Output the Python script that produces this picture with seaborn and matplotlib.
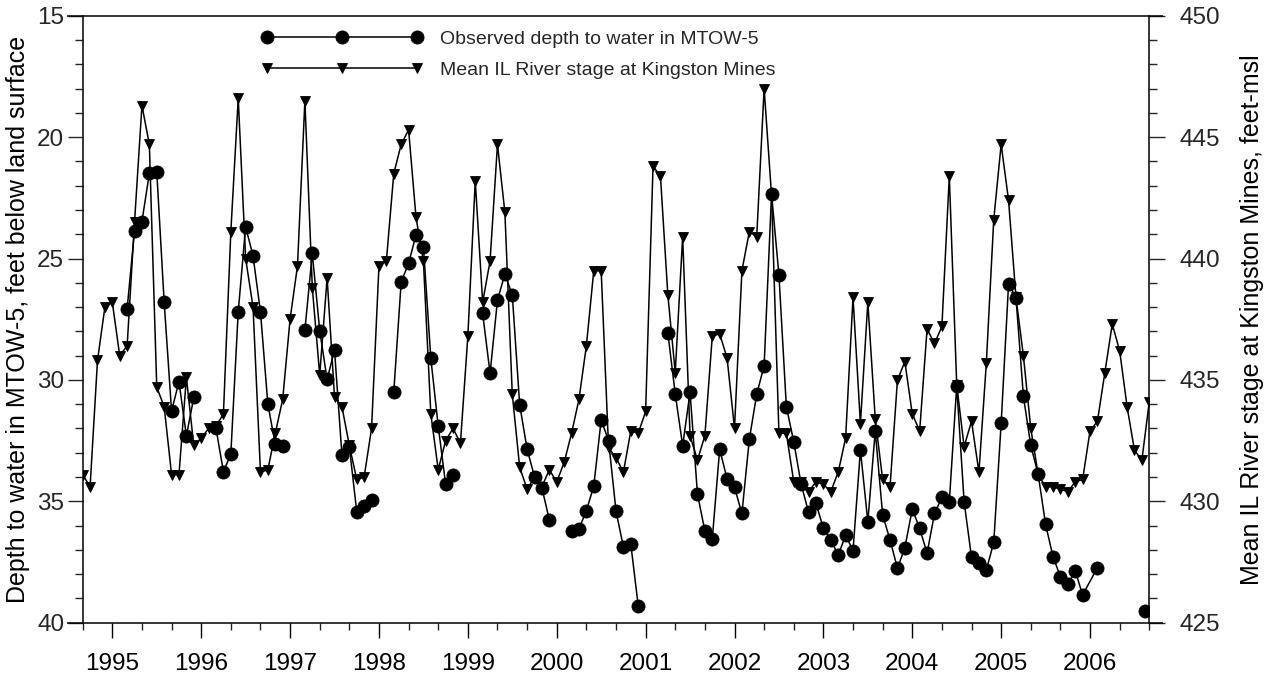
import numpy as np
import pandas as pd
import matplotlib
matplotlib.use("Agg")
import matplotlib.pyplot as plt
import seaborn as sns
from matplotlib.lines import Line2D
from matplotlib.ticker import MultipleLocator

# ---------------- data ----------------
# monthly series starts September 1994 (month index 0)
START_YEAR = 1994 + 8 / 12

# Mean IL River stage at Kingston Mines, feet-msl (monthly, Sep 1994 - Sep 2006)
river_stage = [
    431.1, 430.6, 435.8, 438.0, 438.2, 436.0, 436.4, 441.5, 446.3, 444.7,
    434.7, 433.9, 431.1, 431.1, 435.1, 432.3, 432.6, 433.0, 433.1, 433.6,
    441.1, 446.6, 440.0, 438.0, 431.2, 431.3, 432.8, 434.2, 437.5, 439.7,
    446.5, 438.8, 435.2, 439.2, 434.3, 433.9, 432.3, 430.9, 431.0, 433.0,
    439.7, 439.9, 443.5, 444.7, 445.3, 441.7, 439.9, 433.6, 431.3, 432.5,
    433.0, 432.4, 436.8, 443.2, 438.2, 439.9, 444.7, 441.9, 434.4, 431.4,
    430.5, 431.0, 430.6, 431.3, 430.8, 431.6, 432.8, 434.2, 436.4, 439.5,
    439.5, 432.2, 431.8, 431.2, 432.9, 432.8, 433.7, 443.8, 443.4, 438.5,
    435.3, 440.9, 432.7, 431.7, 432.7, 436.8, 436.9, 435.9, 433.0, 439.5,
    441.1, 440.9, 447.0, 442.6, 432.8, 432.8, 430.8, 430.8, 430.4, 430.8,
    430.7, 430.4, 431.2, 432.6, 438.4, 433.2, 438.2, 433.4, 430.9, 430.6,
    435.0, 435.75, 433.6, 432.9, 437.1, 436.5, 437.2, 443.4, 434.8, 432.25,
    433.3, 431.2, 435.7, 441.6, 444.7, 442.4, 438.4, 436.0, 433.0, 431.1,
    430.6, 430.6, 430.5, 430.4, 430.8, 430.9, 432.9, 433.3, 435.3, 437.3,
    436.2, 433.9, 432.1, 431.7, 434.1,
]

# Observed depth to water in MTOW-5 (month index, feet below land surface, line segment id)
depth_month = (
    list(range(6, 16)) + list(range(18, 28)) + list(range(30, 40)) +
    list(range(42, 51)) + list(range(54, 64)) + list(range(66, 76)) +
    list(range(79, 136)) + [137] + [143.4]
)
depth_ft = [
    27.08, 23.85, 23.48, 21.49, 21.42, 26.80, 31.28, 30.07, 32.30, 30.72,
    32.00, 33.78, 33.05, 27.19, 23.69, 24.90, 27.19, 31.00, 32.65, 32.72,
    27.94, 24.79, 27.97, 29.98, 28.77, 33.09, 32.75, 35.43, 35.19, 34.95,
    30.49, 25.96, 25.20, 24.03, 24.51, 29.11, 31.90, 34.30, 33.92,
    27.26, 29.73, 26.71, 25.64, 26.50, 31.03, 32.85, 33.99, 34.44, 35.77,
    36.21, 36.13, 35.39, 34.37, 31.65, 32.50, 35.40, 36.87, 36.76, 39.30,
    28.06, 30.58, 32.71, 30.51, 34.70, 36.22, 36.55, 32.85, 34.08, 34.42,
    35.50, 32.45, 30.59, 29.41, 22.34, 25.68, 31.10, 32.55, 34.30, 35.45,
    35.08, 36.11, 36.59, 37.21, 36.40, 37.03, 32.89, 35.84, 32.10, 35.56,
    36.59, 37.76, 36.91, 35.32, 36.11, 37.14, 35.50, 34.84, 35.02, 30.25,
    35.02, 37.31, 37.55, 37.83, 36.69, 31.79, 26.05, 26.61, 30.66, 32.70,
    33.89, 35.95, 37.28, 38.10, 38.41, 37.86, 38.86, 37.73,
    39.50,
]
depth_seg = ([0] * 10 + [1] * 10 + [2] * 10 + [3] * 9 + [4] * 10 + [5] * 10 +
             [6] * 58 + [7])

year_ticks = list(range(1995, 2007))
depth_ticks = [15, 20, 25, 30, 35, 40]
stage_ticks = [425, 430, 435, 440, 445, 450]

legend_labels = ["Observed depth to water in MTOW-5",
                 "Mean IL River stage at Kingston Mines"]
ylabel_left = "Depth to water in MTOW-5, feet below land surface"
ylabel_right = "Mean IL River stage at Kingston Mines, feet-msl"

# ---------------- frames ----------------
stage_df = pd.DataFrame({
    "year": START_YEAR + np.arange(len(river_stage)) / 12,
    "stage": river_stage,
})
depth_df = pd.DataFrame({
    "year": START_YEAR + np.array(depth_month) / 12,
    "depth": depth_ft,
    "seg": depth_seg,
})

# ---------------- style ----------------
sns.set_theme(style="white")
plt.rcParams["font.family"] = ["Liberation Sans", "DejaVu Sans"]
plt.rcParams["axes.linewidth"] = 1.1

fig = plt.figure(figsize=(12.76, 6.85), dpi=100)
ax = fig.add_axes([0.0648, 0.0909, 0.8359, 0.8862])
ax2 = ax.twinx()

LW = 1.1
TRI_MS = 6.5
CIR_MS = 9.5
# river stage (right axis)
sns.lineplot(data=stage_df, x="year", y="stage", ax=ax2, color="black",
             lw=LW, marker="v", markersize=TRI_MS, markeredgecolor="black",
             markeredgewidth=0.6, legend=False)
# depth (left axis)
sns.lineplot(data=depth_df, x="year", y="depth", units="seg", estimator=None,
             ax=ax, color="black", lw=LW, marker="o", markersize=CIR_MS,
             markeredgecolor="black", markeredgewidth=0.5, legend=False)

ax.set_zorder(ax2.get_zorder() + 1)
ax.patch.set_visible(False)

# axes limits / ticks
ax.set_xlim(START_YEAR, START_YEAR + 12)
ax.set_ylim(40, 15)
ax2.set_ylim(425, 450)

ax.set_xticks(year_ticks)
ax.set_xticklabels([str(y) for y in year_ticks])
ax.xaxis.set_minor_locator(MultipleLocator(1 / 3))
ax.set_yticks(depth_ticks)
ax.yaxis.set_minor_locator(MultipleLocator(1))
ax2.set_yticks(stage_ticks)
ax2.yaxis.set_minor_locator(MultipleLocator(1))

ax.tick_params(axis="x", which="major", direction="out", length=10.8,
               width=1.0, pad=11, labelsize=17.5, colors="black",
               bottom=True, top=False)
ax.tick_params(axis="x", which="minor", direction="out", length=5.2,
               width=1.0, bottom=True, top=False)
ax.tick_params(axis="y", which="major", direction="out", length=10.8,
               width=1.0, pad=2.5, labelsize=17.5, left=True, right=False)
ax.tick_params(axis="y", which="minor", direction="out", length=5.5,
               width=1.0, left=True, right=False)
ax2.tick_params(axis="y", which="major", direction="out", length=11.5,
                width=1.0, pad=10.5, labelsize=17.5, right=True, left=False)
ax2.tick_params(axis="y", which="minor", direction="out", length=6,
                width=1.0, right=True, left=False)

# spines
for s in ["top", "bottom", "right"]:
    ax.spines[s].set_visible(False)
for s in ["top", "bottom", "left"]:
    ax2.spines[s].set_visible(False)
ax.spines["left"].set_color("black")
ax2.spines["right"].set_color("black")
for yy in (0, 1):
    ax.plot([-0.015, 1.0128], [yy, yy], transform=ax.transAxes,
            color="black", lw=1.1, clip_on=False, solid_capstyle="butt")

# labels
ax.set_xlabel("")
ax.set_ylabel(ylabel_left, fontsize=18, color="black")
ax.yaxis.set_label_coords(-0.049, 0.5)
ax2.set_ylabel(ylabel_right, fontsize=18, color="black", rotation=90)
ax2.yaxis.set_label_coords(1.085, 0.5)
ax2.yaxis.label.set_verticalalignment("top")

# legend
handles = [
    Line2D([], [], color="black", lw=LW, marker="o", markersize=CIR_MS,
           markeredgewidth=0.5),
    Line2D([], [], color="black", lw=LW, marker="v", markersize=TRI_MS,
           markeredgewidth=0.6),
]
ax.legend(handles, legend_labels, loc="upper left",
          bbox_to_anchor=(0.1672, 0.976), frameon=False, fontsize=14,
          numpoints=3, handlelength=8.3, handletextpad=0.9,
          labelspacing=0.68, borderpad=0, borderaxespad=0)

fig.savefig("out.png", dpi=100, facecolor="white")
